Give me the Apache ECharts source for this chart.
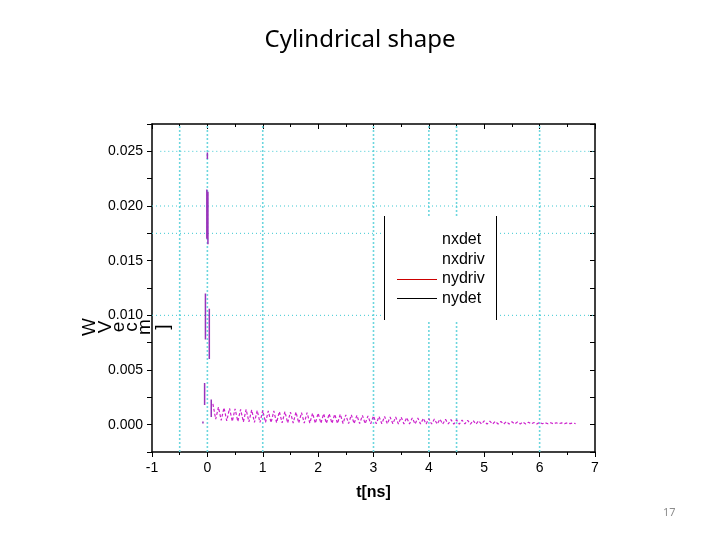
<!DOCTYPE html>
<html>
<head>
<meta charset="utf-8">
<title>Cylindrical shape</title>
<script src="https://cdn.jsdelivr.net/npm/echarts@6/dist/echarts.min.js"></script>
<style>
html, body { margin: 0; padding: 0; background: #fff; }
#chart { width: 720px; height: 540px; }
</style>
</head>
<body>
<div id="chart"></div>
<script>
// fast swings right after t=0, each one a vertical stroke (lo -> hi)
var spikeT  = [-0.08, -0.05, -0.035, -0.01, 0.00, 0.01, 0.035, 0.07];
var spikeLo = [0.0001, 0.0018, 0.0078, 0.0170, 0.0243, 0.0165, 0.0060, 0.0007];
var spikeHi = [0.0003, 0.0038, 0.0120, 0.0215, 0.0249, 0.0213, 0.0106, 0.0023];

// ringing after the pulse, sampled every half period (0.05 ns) from t = 0.1 ns
var oscStart = 0.1;
var oscHalfStep = 0.05;
var oscPeaks = [
	0.0019, 0.0016, 0.00155, 0.0015, 0.00145, 0.0014, 0.0014, 0.00135, 0.0013, 0.0013,
	0.00125, 0.00125, 0.0012, 0.0012, 0.00115, 0.00115, 0.0011, 0.0011, 0.00105, 0.00105,
	0.001, 0.001, 0.00095, 0.00095, 0.0009, 0.0009, 0.00085, 0.00085, 0.0008, 0.0008,
	0.00075, 0.00075, 0.0007, 0.0007, 0.00068, 0.00065, 0.00062, 0.0006, 0.00058, 0.00055,
	0.00052, 0.0005, 0.00048, 0.00046, 0.00044, 0.00042, 0.0004, 0.00038, 0.00036, 0.00034,
	0.00032, 0.0003, 0.00029, 0.00028, 0.00026, 0.00025, 0.00024, 0.00022, 0.0002, 0.0002,
	0.00018, 0.00018, 0.00017, 0.00016, 0.00016, 0.00015
];
var oscTroughs = [
	0.0005, 0.0004, 0.00035, 0.0003, 0.0003, 0.00025, 0.00025, 0.0002, 0.0002, 0.0002,
	0.00018, 0.00018, 0.00016, 0.00016, 0.00015, 0.00015, 0.00014, 0.00014, 0.00013, 0.00013,
	0.00012, 0.00012, 0.00011, 0.00011, 0.0001, 0.0001, 0.0001, 0.00009, 0.00009, 0.00009,
	0.00008, 0.00008, 0.00008, 0.00007, 0.00007, 0.00007, 0.00006, 0.00006, 0.00006, 0.00006,
	0.00005, 0.00005, 0.00006, 0.00005, 0.00005, 0.00006, 0.00005, 0.00005, 0.00006, 0.00005,
	0.00006, 0.00006, 0.00005, 0.00006, 0.00006, 0.00007, 0.00006, 0.00007, 0.00007, 0.00008,
	0.00008, 0.00008, 0.00009, 0.00009, 0.0001, 0.0001
];

// dotted guide lines of the original plot
var guideX = [-0.5, 0, 1, 3, 4, 4.5, 6];
var guideY = [0.025, 0.02, 0.0175, 0.01];

var legendNames = ['nxdet', 'nxdriv', 'nydriv', 'nydet'];
var yLabelChars = ['W', 'V', 'e', 'c', 'm', ']'];

(function() {
	var xMin = -1, xMax = 7, yMin = -0.0025, yMax = 0.0275;

	var spikeData = [];
	for (var i = 0; i < spikeT.length; i++) {
		spikeData.push([spikeT[i], spikeLo[i]]);
		spikeData.push([spikeT[i], spikeHi[i]]);
		spikeData.push([spikeT[i], '-']);
	}
	var oscData = [];
	for (var j = 0; j < oscPeaks.length; j++) {
		oscData.push([oscStart + 2 * j * oscHalfStep, oscPeaks[j]]);
		oscData.push([oscStart + (2 * j + 1) * oscHalfStep, oscTroughs[j]]);
	}
	// guides drawn as broken line series across the whole plot
	var vGuide = [], hGuide = [];
	guideX.forEach(function(v) {
		vGuide.push([v, yMin], [v, yMax], [v, '-']);
	});
	guideY.forEach(function(v) {
		hGuide.push([v === 0.025 ? -0.85 : xMin, v], [xMax, v], [xMax, '-']);
	});

	var axisFont = { fontFamily: 'Liberation Sans, Arial', fontSize: 14, color: '#000' };
	var yFmt = function(v) {
		var k = Math.round(v / 0.005);
		if (Math.abs(k * 0.005 - v) < 1e-9 && k >= 0) return v.toFixed(3);
		return '';
	};

	var graphics = [
		{ type: 'text', left: 'center', top: 28, style: { text: 'Cylindrical shape', font: '24px "Noto Sans"', fill: '#000' } },
		{ type: 'text', x: 663, y: 507, style: { text: '17', font: '11px "Noto Sans"', fill: '#8c8c8c' } },
		{ type: 'rect', shape: { x: 385, y: 216, width: 111, height: 104 }, style: { fill: '#fff' }, z: 100 },
		{ type: 'line', shape: { x1: 384.5, y1: 216, x2: 384.5, y2: 320 }, style: { stroke: '#000', lineWidth: 1 }, z: 101 },
		{ type: 'line', shape: { x1: 496.5, y1: 216, x2: 496.5, y2: 320 }, style: { stroke: '#000', lineWidth: 1 }, z: 101 },
		{ type: 'line', shape: { x1: 397, y1: 279.5, x2: 437, y2: 279.5 }, style: { stroke: '#cc0000', lineWidth: 1 }, z: 101 },
		{ type: 'line', shape: { x1: 397, y1: 298.5, x2: 437, y2: 298.5 }, style: { stroke: '#000', lineWidth: 1 }, z: 101 }
	];
	legendNames.forEach(function(n, i) {
		graphics.push({ type: 'text', x: 442, y: 240 + i * 19.5, z: 101,
			style: { text: n, font: '16px "Liberation Sans", Arial', fill: '#000', verticalAlign: 'middle' } });
	});
	var yLabX = [90, 106, 119, 132, 145, 163];
	yLabelChars.forEach(function(c, i) {
		graphics.push({ type: 'text', x: yLabX[i], y: 327, rotation: Math.PI / 2, z: 101,
			style: { text: c, font: '19px "Liberation Sans", Arial', fill: '#000', align: 'center', verticalAlign: 'middle' } });
	});

	var option = {
		animation: false,
		backgroundColor: '#fff',
		grid: { left: 152, right: 125, top: 124, bottom: 88 },
		xAxis: [{
			type: 'value', position: 'bottom', min: xMin, max: xMax, interval: 1,
			name: 't[ns]', nameLocation: 'middle', nameGap: 33,
			nameTextStyle: { fontFamily: 'Liberation Sans, Arial', fontSize: 16, fontWeight: 'bold', color: '#000' },
			axisLine: { onZero: false, lineStyle: { color: '#000', width: 1.5 } },
			axisTick: { inside: false, length: 5, lineStyle: { color: '#000' } },
			minorTick: { show: true, splitNumber: 2, length: 3, lineStyle: { color: '#000' } },
			axisLabel: Object.assign({ margin: 9 }, axisFont), splitLine: { show: false }
		}, {
			type: 'value', position: 'top', min: xMin, max: xMax, interval: 1,
			axisLine: { onZero: false, lineStyle: { color: '#000', width: 1.5 } },
			axisTick: { inside: true, length: 5, lineStyle: { color: '#000' } },
			minorTick: { show: true, splitNumber: 2, length: 3, lineStyle: { color: '#000' } },
			axisLabel: { show: false }, splitLine: { show: false }
		}],
		yAxis: [{
			type: 'value', position: 'left', min: yMin, max: yMax, interval: 0.0025,
			axisLine: { show: true, onZero: false, lineStyle: { color: '#000', width: 1.5 } },
			axisTick: { show: true, inside: false, length: 5, lineStyle: { color: '#000' } },
			axisLabel: Object.assign({ formatter: yFmt, margin: 9 }, axisFont),
			splitLine: { show: false }
		}, {
			type: 'value', position: 'right', min: yMin, max: yMax, interval: 0.0025,
			axisLine: { show: true, onZero: false, lineStyle: { color: '#000', width: 1.5 } },
			axisTick: { show: true, inside: true, length: 5, lineStyle: { color: '#000' } },
			axisLabel: { show: false }, splitLine: { show: false }
		}],
		series: [{
			type: 'line', data: vGuide, showSymbol: false, silent: true, z: 1,
			lineStyle: { type: [2, 2], color: '#6cd6de', width: 1.6 }
		}, {
			type: 'line', data: hGuide, showSymbol: false, silent: true, z: 1,
			lineStyle: { type: [1, 3], color: '#3cc8d2', width: 1 }
		}, {
			name: 'nxdriv', type: 'line', data: oscData, showSymbol: false, z: 3,
			lineStyle: { color: '#cc22cc', width: 1.2, type: [3, 2] }
		}, {
			name: 'nxdet', type: 'line', data: spikeData, showSymbol: false, z: 4,
			lineStyle: { color: '#9933bb', width: 1.5 }
		}],
		graphic: graphics
	};
	var chart = echarts.init(document.getElementById('chart'));
	chart.setOption(option);
})();
</script>
</body>
</html>
